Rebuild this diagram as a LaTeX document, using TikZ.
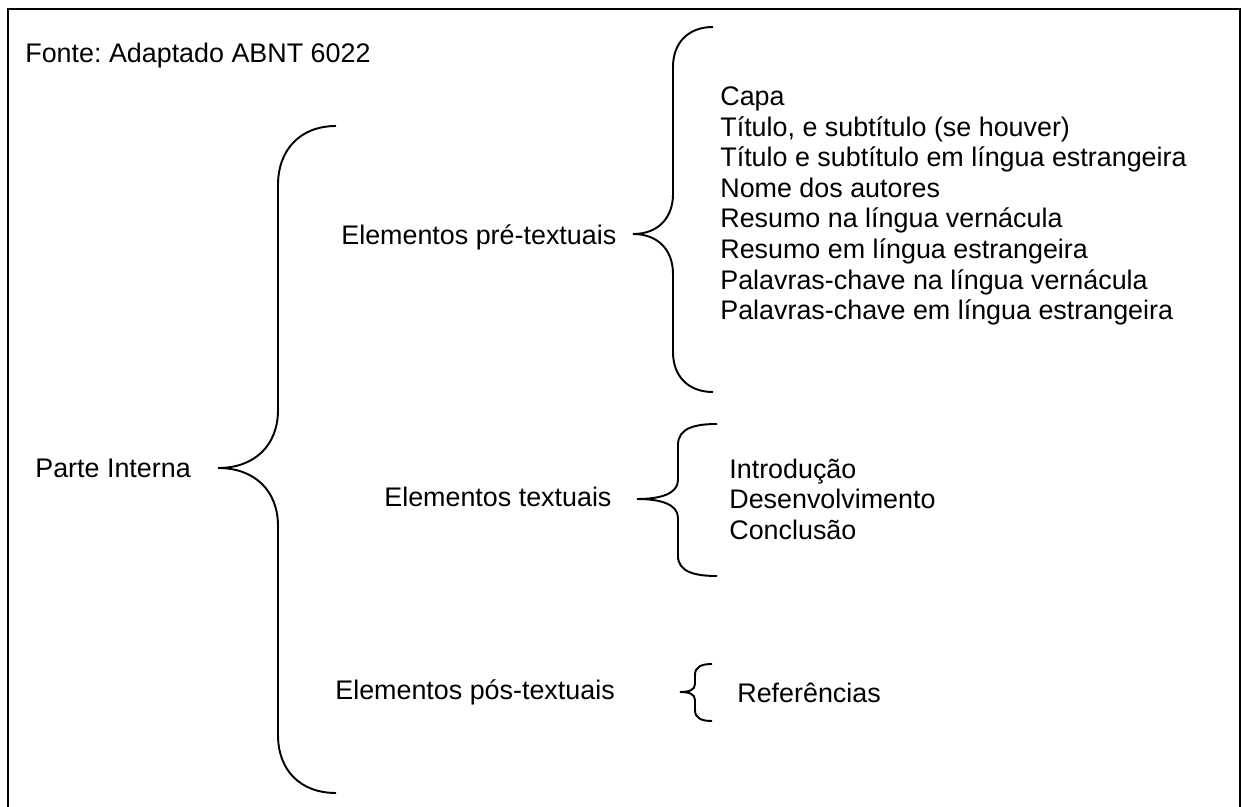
\documentclass[tikz,border=0pt]{standalone}
\usepackage{fontspec}
\setmainfont{Liberation Sans}
\usepackage{tikz}
\usetikzlibrary{positioning}
\frenchspacing

\begin{document}
\begin{tikzpicture}[x=0.02cm, y=-0.02cm,
    chave/.style={line width=1.1pt},
    rotulo/.style={anchor=west, inner sep=0pt, font=\fontsize{15.3}{17.4}\selectfont}]
    \useasboundingbox (0,0) rectangle (1241,807);
    %%Moldura
    \draw[line width=0.8pt] (8,807) -- (8,9) -- (1240,9) -- (1240,807);
    %%Textos
    \node[rotulo] (fonte) at (25,56) {Fonte: Adaptado ABNT 6022};
    \node[rotulo] (parte) at (35,468) {Parte Interna};
    \node[rotulo] (pre) at (341,237) {Elementos pré-textuais};
    \node[rotulo] (tex) at (384,497) {Elementos textuais};
    \node[rotulo] (pos) at (335,692) {Elementos pós-textuais};
    \node[rotulo, align=left] (listapre) at (720,206) {Capa\\
        Título, e subtítulo (se houver)\\
        Título e subtítulo em língua estrangeira\\
        Nome dos autores\\
        Resumo na língua vernácula\\
        Resumo em língua estrangeira\\
        Palavras-chave na língua vernácula\\
        Palavras-chave em língua estrangeira};
    \node[rotulo, align=left] (listatex) at (729,499) {Introdução\\
        Desenvolvimento\\
        Conclusão};
    \node[rotulo] (ref) at (737,693) {Referências};
    %%Chaves
    \draw[chave] (336,126) .. controls (300,126) and (278,150) .. (278,185)
        -- (278,410) .. controls (278,445) and (255,468) .. (218,468)
        .. controls (255,468) and (278,491) .. (278,526)
        -- (278,735) .. controls (278,770) and (300,793) .. (336,793);
    \draw[chave] (713,27) .. controls (688,27) and (673,43) .. (673,67)
        -- (673,194) .. controls (673,218) and (658,234) .. (633,234)
        .. controls (658,234) and (673,250) .. (673,274)
        -- (673,352) .. controls (673,376) and (688,392) .. (713,392);
    \draw[chave] (717,424) .. controls (695,424) and (678,428) .. (678,445)
        -- (678,480) .. controls (678,494) and (660,499) .. (637,499)
        .. controls (660,499) and (678,504) .. (678,518)
        -- (678,556) .. controls (678,572) and (695,576) .. (717,576);
    \draw[chave] (712,664) .. controls (701,664) and (695,667) .. (695,675)
        -- (695,684) .. controls (695,690) and (689,692) .. (680,692)
        .. controls (689,692) and (695,694) .. (695,700)
        -- (695,710) .. controls (695,718) and (701,721) .. (712,721);
\end{tikzpicture}
\end{document}
